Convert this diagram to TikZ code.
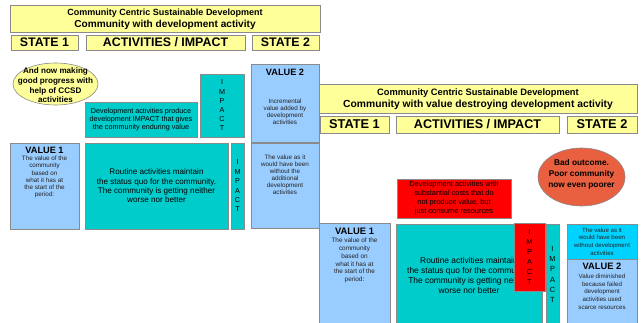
\documentclass[tikz,border=0pt]{standalone}
\usepackage{fontspec}
\setmainfont{Liberation Sans}
\usetikzlibrary{shapes.geometric}
\definecolor{yel}{HTML}{FFFF99}
\definecolor{lblue}{HTML}{99CCFF}
\definecolor{tealb}{HTML}{00CCCC}
\definecolor{cyanb}{HTML}{00D2FF}
\definecolor{redb}{HTML}{FF0000}
\definecolor{orangeb}{RGB}{232,96,64}
\definecolor{edge}{HTML}{8A8A8A}
\definecolor{smalltxt}{HTML}{222222}
\begin{document}
\begin{tikzpicture}[x=1pt,y=-1pt,
  box/.style={draw=edge, line width=0.6pt, inner sep=0pt, rectangle, align=center},
  ell/.style={draw=edge, line width=0.6pt, inner sep=0pt, ellipse},
  txt/.style={inner sep=0pt, align=center},
  hdr/.style={box, fill=yel, minimum height=15pt, font=\fontsize{12.4}{14}\selectfont\bfseries},
  vttl/.style={txt, font=\fontsize{9.2}{10}\selectfont\bfseries},
  small/.style={txt, text=smalltxt, font=\fontsize{6.3}{7.1}\selectfont},
]
\useasboundingbox (0,0) rectangle (642,323);
\fill[white] (0,0) rectangle (642,323);
\clip (0,0) rectangle (642,323);

% ---------------- left diagram ----------------
\node[box, fill=yel, minimum width=310pt, minimum height=27pt] (t1) at (165,18.5) {};
\node[txt, font=\fontsize{9}{10}\selectfont\bfseries] (t1a) at (165,13) {Community Centric Sustainable Development};
\node[txt, font=\fontsize{10.1}{12}\selectfont\bfseries] (t1b) at (165,24.5) {Community with development activity};

\node[hdr, minimum width=67pt] (h1a) at (44.5,42.5) {STATE 1};
\node[hdr, minimum width=159pt] (h1b) at (165.5,42.5) {ACTIVITIES / IMPACT};
\node[hdr, minimum width=67pt] (h1c) at (285.5,42.5) {STATE 2};

\node[ell, fill=yel, minimum width=85pt, minimum height=42pt] (e1) at (55.5,84) {};
\node[txt, font=\fontsize{8.1}{9.6}\selectfont\bfseries] (e1t) at (55.5,85.5) {And now making\\good progress with\\help of CCSD\\activities};

\node[box, fill=tealb, minimum width=112pt, minimum height=35pt, font=\fontsize{7.2}{8.3}\selectfont] (dev1) at (141,119.5) {Development activities produce\\development IMPACT that gives\\the community enduring value};
\node[box, fill=tealb, minimum width=44pt, minimum height=63pt, font=\fontsize{7.2}{9.2}\selectfont] (imp1a) at (222,105.5) {I\\M\\P\\A\\C\\T};

\node[box, fill=lblue, minimum width=68pt, minimum height=78pt] (v2a) at (285,103) {};
\node[vttl] (v2at) at (285,72) {VALUE 2};
\node[small] (v2ad) at (285,112) {Incremental\\value added by\\development\\activities};

\node[box, fill=lblue, minimum width=69pt, minimum height=86pt] (v1a) at (44.5,186) {};
\node[vttl] (v1at) at (44.5,150) {VALUE 1};
\node[small] (v1ad) at (44.5,177) {The value of the\\community\\based on\\what it has at\\the start of the\\period:};

\node[box, fill=tealb, minimum width=143pt, minimum height=86pt, font=\fontsize{8.1}{9.4}\selectfont] (rout1) at (156.5,186) {Routine activities maintain\\the status quo for the community.\\The community is getting neither\\worse nor better};
\node[box, fill=tealb, minimum width=13pt, minimum height=86pt, font=\fontsize{7.2}{9.4}\selectfont] (imp1b) at (237.5,186) {I\\M\\P\\A\\C\\T};

\node[box, fill=lblue, minimum width=68pt, minimum height=85pt] (v2b) at (285,185.5) {};
\node[small] (v2bd) at (285,174.5) {The value as it\\would have been\\without the\\additional\\development\\activities};

% ---------------- right diagram ----------------
\node[box, fill=yel, minimum width=318pt, minimum height=29pt] (t2) at (478,98.5) {};
\node[txt, font=\fontsize{9.3}{10}\selectfont\bfseries] (t2a) at (478,93) {Community Centric Sustainable Development};
\node[txt, font=\fontsize{10.3}{12}\selectfont\bfseries] (t2b) at (478,104.5) {Community with value destroying development activity};

\node[hdr, minimum width=69pt, minimum height=17pt, font=\fontsize{12.8}{14}\selectfont\bfseries] (h2a) at (354.5,124.5) {STATE 1};
\node[hdr, minimum width=163pt, minimum height=17pt, font=\fontsize{12.6}{14}\selectfont\bfseries] (h2b) at (477.5,124.5) {ACTIVITIES / IMPACT};
\node[hdr, minimum width=70pt, minimum height=17pt, font=\fontsize{12.8}{14}\selectfont\bfseries] (h2c) at (602,124.5) {STATE 2};

\node[ell, fill=orangeb, minimum width=87pt, minimum height=58pt] (e2) at (581.5,177) {};
\node[txt, font=\fontsize{8.3}{10.7}\selectfont\bfseries] (e2t) at (581.5,174.5) {Bad outcome.\\Poor community\\now even poorer};

\node[box, fill=redb, minimum width=114pt, minimum height=39pt, font=\fontsize{7.4}{9}\selectfont] (dev2) at (454,198.5) {Development activities with\\substantial costs that do\\not produce value, but\\just consume resources};

\node[box, fill=lblue, minimum width=71pt, minimum height=104pt] (v1b) at (354.5,275) {};
\node[vttl, font=\fontsize{9.4}{10}\selectfont\bfseries] (v1bt) at (354.5,231) {VALUE 1};
\node[small, font=\fontsize{6.4}{7.8}\selectfont] (v1bd) at (354.5,260.5) {The value of the\\community\\based on\\what it has at\\the start of the\\period:};

\node[box, fill=tealb, minimum width=146pt, minimum height=104pt] (rout2) at (469,276) {};
\node[txt, font=\fontsize{8.4}{10}\selectfont] (rout2t) at (469,275) {Routine activities maintain\\the status quo for the community.\\The community is getting neither\\worse nor better};
\node[box, fill=redb, minimum width=31pt, minimum height=68pt, font=\fontsize{7.4}{10}\selectfont] (imp2a) at (529.5,257) {I\\M\\P\\A\\C\\T};
\node[box, fill=tealb, minimum width=13pt, minimum height=104pt] (imp2b) at (552.5,276) {};
\node[txt, font=\fontsize{7.4}{10.2}\selectfont] (imp2bt) at (552.5,274.5) {I\\M\\P\\A\\C\\T};

\node[box, fill=cyanb, minimum width=70pt, minimum height=35pt, text=smalltxt, font=\fontsize{6.1}{7.6}\selectfont] (cy2) at (602,241.5) {The value as it\\would have been\\without development\\activities};
\node[box, fill=lblue, minimum width=70pt, minimum height=68pt] (v2c) at (602,293) {};
\node[vttl, font=\fontsize{9.3}{10}\selectfont\bfseries] (v2ct) at (602,266) {VALUE 2};
\node[small, font=\fontsize{6.2}{7.7}\selectfont] (v2cd) at (602,291.5) {Value diminished\\because failed\\development\\activities used\\scarce resources};
\end{tikzpicture}
\end{document}
